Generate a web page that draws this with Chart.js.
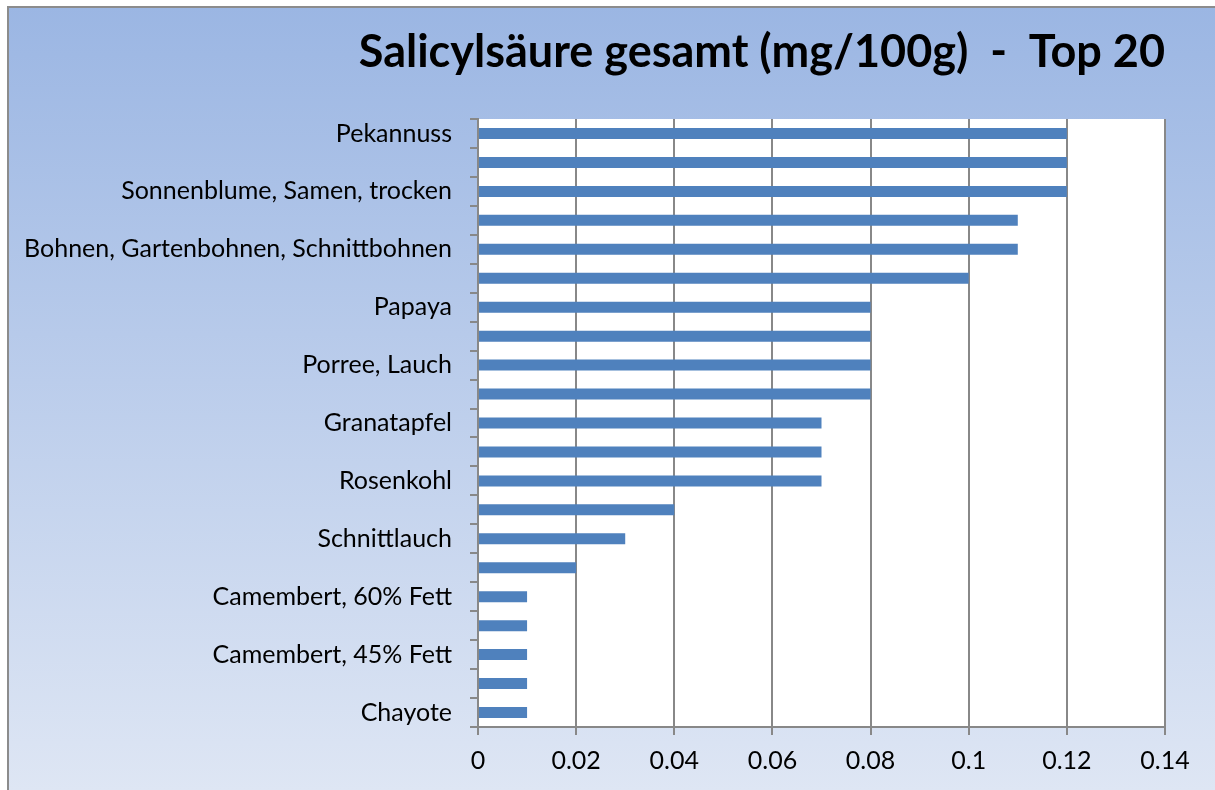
<!DOCTYPE html>
<html>
<head>
<meta charset="utf-8">
<script src="https://cdn.jsdelivr.net/npm/chart.js@4"></script>
<style>
  html, body { margin: 0; padding: 0; background: #fff; }
  #wrap { width: 1215px; height: 790px; }
</style>
</head>
<body>
<div id="wrap"><canvas id="salChart" width="1215" height="790"></canvas></div>
<script>
// categories (only every other name is printed on the axis in the original)
const foods = [
  "Pekannuss", "", "Sonnenblume, Samen, trocken", "", "Bohnen, Gartenbohnen, Schnittbohnen",
  "", "Papaya", "", "Porree, Lauch", "", "Granatapfel", "", "Rosenkohl", "",
  "Schnittlauch", "", "Camembert, 60% Fett", "", "Camembert, 45% Fett", "", "Chayote"
];
// mg / 100g
const salicylValues = [
  0.12, 0.12, 0.12, 0.11, 0.11, 0.10, 0.08, 0.08, 0.08, 0.08, 0.07,
  0.07, 0.07, 0.04, 0.03, 0.02, 0.01, 0.01, 0.01, 0.01, 0.01
];
const xTicks = [0, 0.02, 0.04, 0.06, 0.08, 0.1, 0.12, 0.14];

const FONT = "Lato, 'Open Sans', sans-serif";

// background gradient + frame, white plot area
const bgPlugin = {
  id: "bgPlugin",
  beforeDraw(chart) {
    const c = chart.ctx;
    const a = chart.chartArea;
    c.save();
    const g = c.createLinearGradient(0, 7, 0, chart.height);
    g.addColorStop(0, "#9bb6e3");
    g.addColorStop(1, "#dee6f4");
    c.fillStyle = g;
    c.fillRect(8, 7, chart.width - 8, chart.height - 7);
    c.strokeStyle = "#8c8c8c";
    c.lineWidth = 2;
    c.strokeRect(8, 7, chart.width, chart.height);
    c.fillStyle = "#ffffff";
    c.fillRect(a.left, a.top, a.right - a.left, a.bottom - a.top);
    c.restore();
  }
};

new Chart(document.getElementById("salChart").getContext("2d"), {
  type: "bar",
  data: {
    labels: foods,
    datasets: [{
      label: "Salicylsäure gesamt (mg/100g)",
      data: salicylValues,
      backgroundColor: "#4f81bd",
      barPercentage: 0.38,
      categoryPercentage: 1.0
    }]
  },
  options: {
    indexAxis: "y",
    responsive: false,
    animation: false,
    layout: { padding: { left: 8, right: 50, top: 0, bottom: 0 } },
    plugins: {
      legend: { display: false },
      tooltip: { enabled: false },
      title: {
        display: true,
        text: "Salicylsäure gesamt (mg/100g)  -  Top 20",
        align: "end",
        color: "#000",
        font: { family: FONT, size: 45, weight: "bold" },
        padding: { top: 25, bottom: 40 }
      }
    },
    scales: {
      x: {
        min: 0,
        max: 0.14,
        afterBuildTicks(scale) {
          scale.ticks = xTicks.map(v => ({ value: v }));
        },
        afterFit(scale) { scale.height = 63; },
        grid: {
          color: "#888888",
          lineWidth: 2,
          tickLength: 8,
          tickColor: "#888888"
        },
        border: { color: "#888888", width: 2 },
        ticks: {
          color: "#000",
          font: { family: FONT, size: 25 },
          padding: 11,
          callback: v => String(+v.toFixed(2))
        }
      },
      y: {
        afterFit(scale) { scale.width = 470; },
        grid: {
          drawOnChartArea: false,
          drawTicks: true,
          tickLength: 8,
          color: "#888888",
          lineWidth: 2
        },
        border: { color: "#888888", width: 2 },
        ticks: {
          autoSkip: false,
          color: "#000",
          font: { family: FONT, size: 25 },
          padding: 18
        }
      }
    }
  },
  plugins: [bgPlugin]
});
</script>
</body>
</html>
